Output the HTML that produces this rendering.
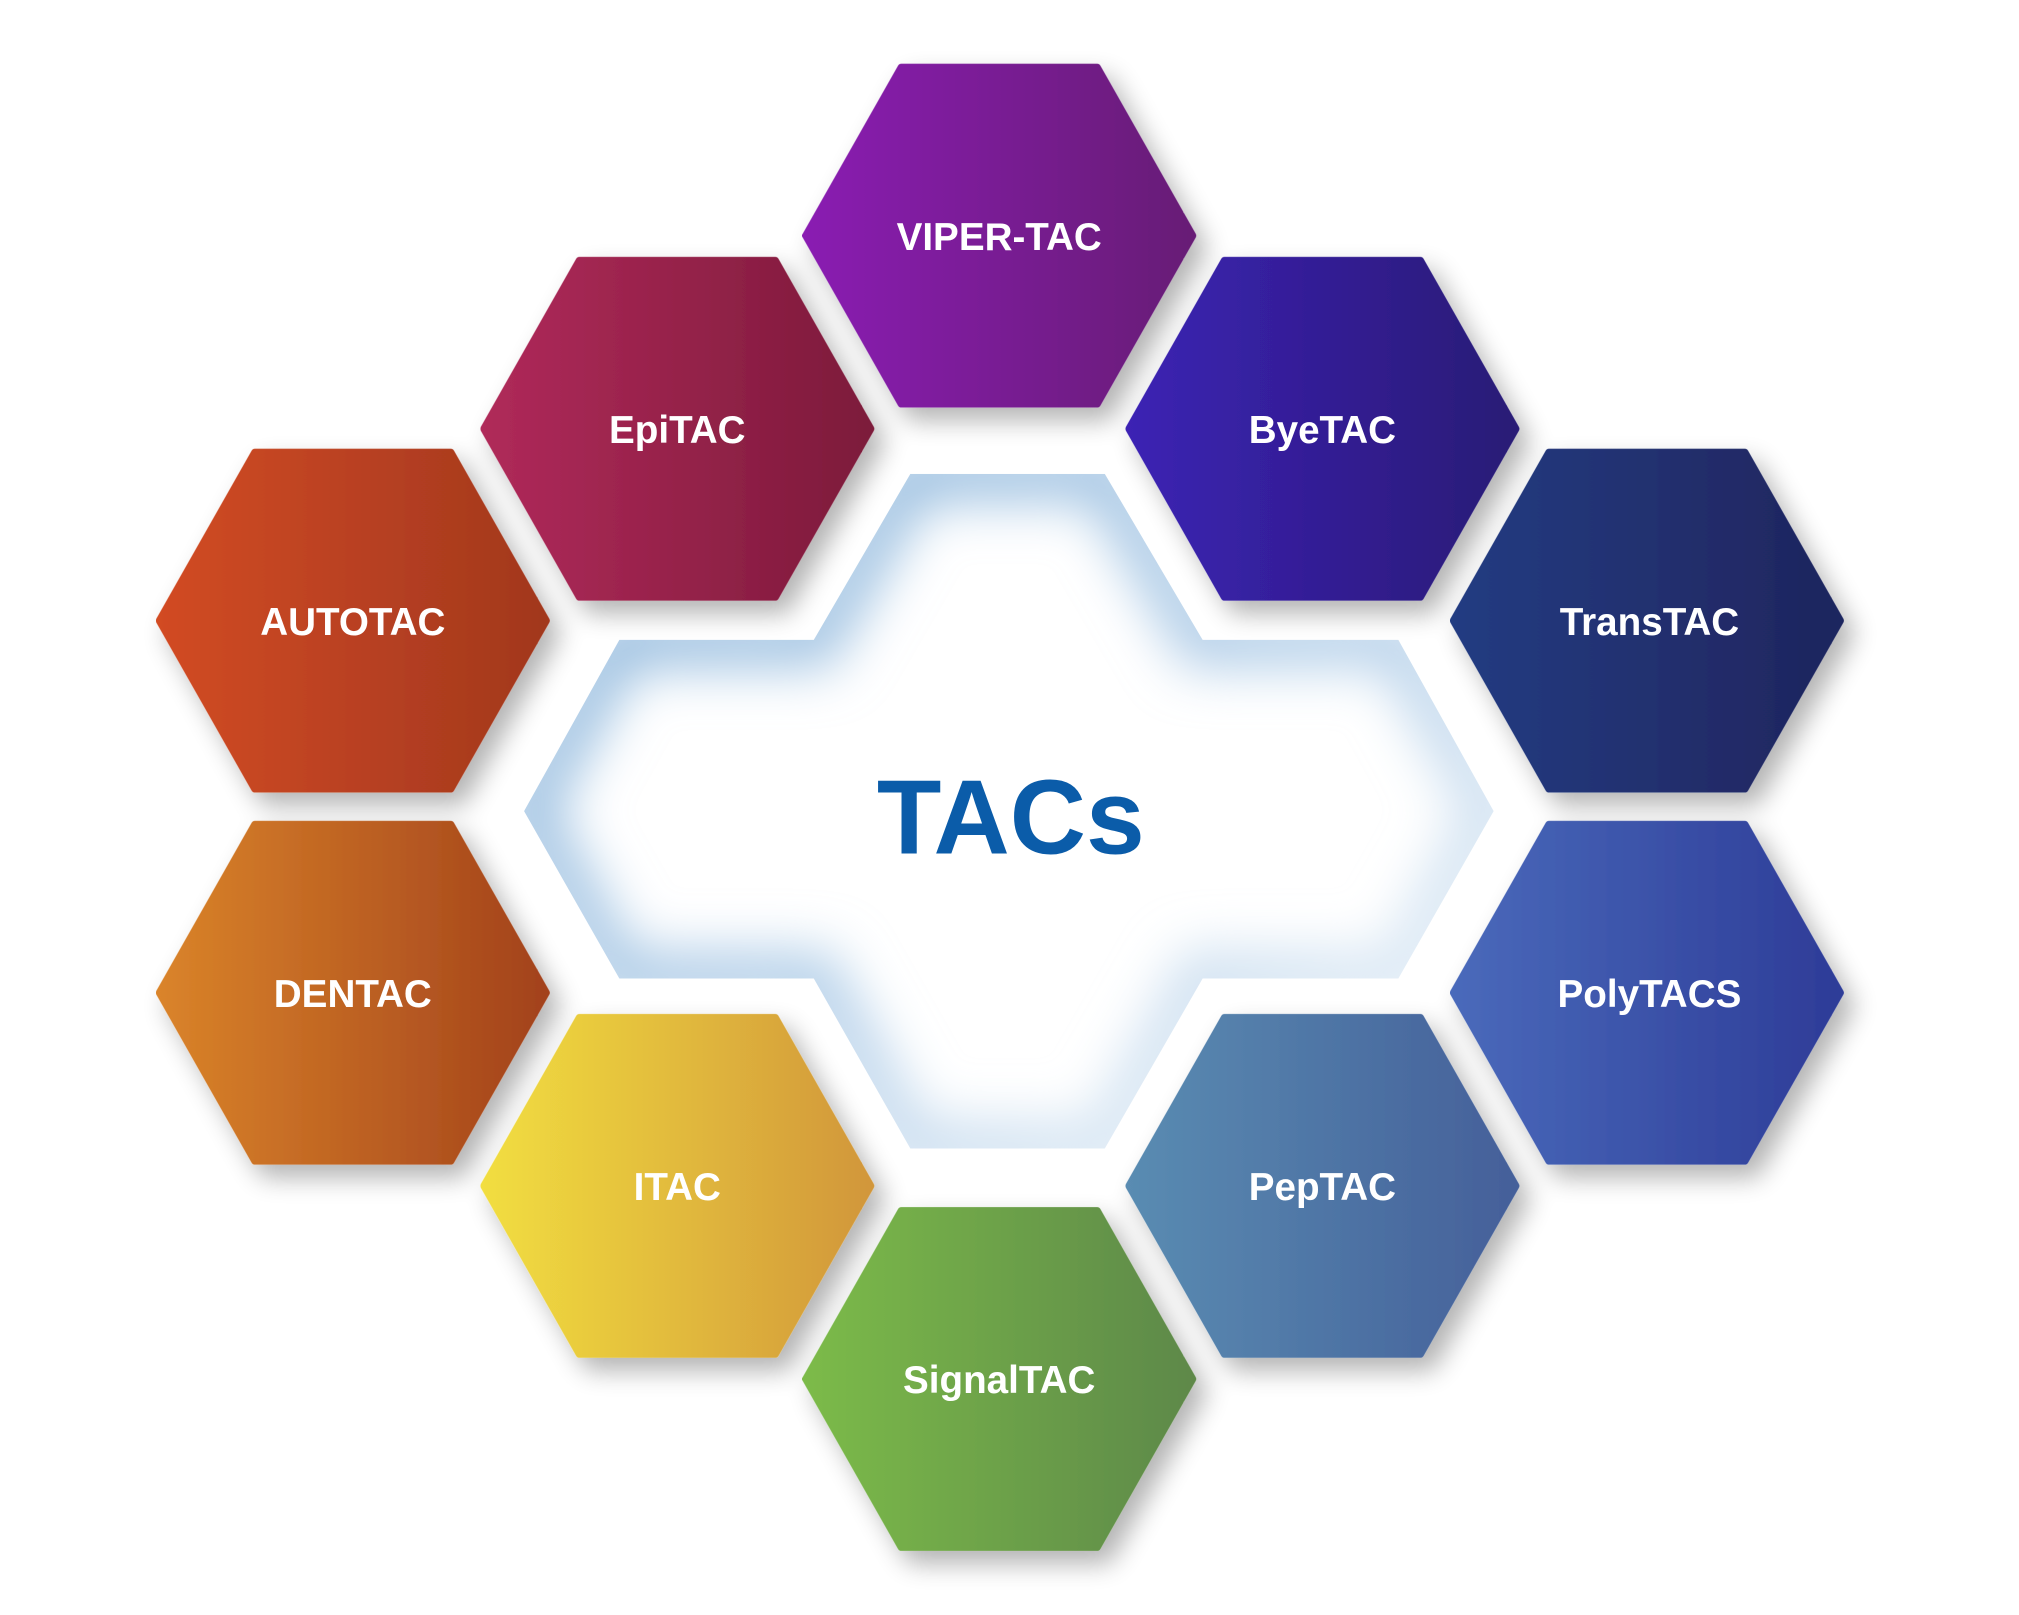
<!DOCTYPE html>
<html><head><meta charset="utf-8"><style>
html,body{margin:0;padding:0;background:#fff;}
svg{display:block;}
text{font-family:"Liberation Sans",sans-serif;fill:#fff;font-weight:bold;}
</style></head><body>
<svg width="2019" height="1615" viewBox="0 0 1568 1254.3" preserveAspectRatio="none" xmlns="http://www.w3.org/2000/svg">
<defs>
<filter id="sh" x="-30%" y="-30%" width="160%" height="160%">
<feGaussianBlur in="SourceAlpha" stdDeviation="10"/>
<feOffset dx="8" dy="10"/>
<feComponentTransfer><feFuncA type="linear" slope="0.3"/></feComponentTransfer>
<feMerge><feMergeNode/><feMergeNode in="SourceGraphic"/></feMerge>
</filter>
<filter id="bl" x="-10%" y="-10%" width="120%" height="120%"><feGaussianBlur stdDeviation="20"/></filter>
<clipPath id="cc"><polygon points="707,368 858,368 934,497 1086,497 1160,630 1086,760 934,760 858,892 707,892 632,760 481,760 407,630 481,497 632,497"/></clipPath>
<linearGradient id="gs" x1="0" y1="0" x2="1" y2="1"><stop offset="0" stop-color="#90b8dc"/><stop offset="0.55" stop-color="#b8d2ea"/><stop offset="1" stop-color="#f4f8fc"/></linearGradient>
<linearGradient id="g1"><stop offset="0" stop-color="#8a1fb2"/><stop offset="1" stop-color="#681e76"/></linearGradient>
<linearGradient id="g2"><stop offset="0" stop-color="#b02a5a"/><stop offset="1" stop-color="#7d1b3b"/></linearGradient>
<linearGradient id="g3"><stop offset="0" stop-color="#3c22b4"/><stop offset="1" stop-color="#2a1c76"/></linearGradient>
<linearGradient id="g4"><stop offset="0" stop-color="#d24b22"/><stop offset="1" stop-color="#a2381f"/></linearGradient>
<linearGradient id="g5"><stop offset="0" stop-color="#243c82"/><stop offset="1" stop-color="#1f255e"/></linearGradient>
<linearGradient id="g6"><stop offset="0" stop-color="#da842a"/><stop offset="1" stop-color="#a3421c"/></linearGradient>
<linearGradient id="g7"><stop offset="0" stop-color="#4a6abb"/><stop offset="1" stop-color="#2e3c98"/></linearGradient>
<linearGradient id="g8"><stop offset="0" stop-color="#f2de40"/><stop offset="1" stop-color="#d2973a"/></linearGradient>
<linearGradient id="g9"><stop offset="0" stop-color="#5a8cb2"/><stop offset="1" stop-color="#45609a"/></linearGradient>
<linearGradient id="g10"><stop offset="0" stop-color="#7cbb4a"/><stop offset="1" stop-color="#5e8948"/></linearGradient>
<polygon id="hx" points="-150,0 -76,-130.5 76,-130.5 150,0 76,130.5 -76,130.5" stroke-linejoin="round" stroke-width="6"/>
</defs>
<g clip-path="url(#cc)">
<rect x="300" y="300" width="1000" height="700" fill="#fff"/>
<polygon points="707,368 858,368 934,497 1086,497 1160,630 1086,760 934,760 858,892 707,892 632,760 481,760 407,630 481,497 632,497" fill="none" stroke="url(#gs)" stroke-width="44" filter="url(#bl)"/>
</g>
<g filter="url(#sh)">
<use href="#hx" x="776" y="183" fill="url(#g1)" stroke="url(#g1)"/>
<use href="#hx" x="526" y="333" fill="url(#g2)" stroke="url(#g2)"/>
<use href="#hx" x="1027" y="333" fill="url(#g3)" stroke="url(#g3)"/>
<use href="#hx" x="274" y="482" fill="url(#g4)" stroke="url(#g4)"/>
<use href="#hx" x="1279" y="482" fill="url(#g5)" stroke="url(#g5)"/>
<use href="#hx" x="274" y="771" fill="url(#g6)" stroke="url(#g6)"/>
<use href="#hx" x="1279" y="771" fill="url(#g7)" stroke="url(#g7)"/>
<use href="#hx" x="526" y="921" fill="url(#g8)" stroke="url(#g8)"/>
<use href="#hx" x="1027" y="921" fill="url(#g9)" stroke="url(#g9)"/>
<use href="#hx" x="776" y="1071" fill="url(#g10)" stroke="url(#g10)"/>
</g>
<g font-size="30" text-anchor="middle">
<text x="776" y="194">VIPER-TAC</text>
<text x="526" y="344">EpiTAC</text>
<text x="1027" y="344">ByeTAC</text>
<text x="274" y="493">AUTOTAC</text>
<text x="1281" y="493">TransTAC</text>
<text x="274" y="782">DENTAC</text>
<text x="1281" y="782">PolyTACS</text>
<text x="526" y="932">ITAC</text>
<text x="1027" y="932">PepTAC</text>
<text x="776" y="1082">SignalTAC</text>
</g>
<text x="785" y="663" font-size="82" text-anchor="middle" style="fill:#0b5ca9">TACs</text>
</svg>
</body></html>
